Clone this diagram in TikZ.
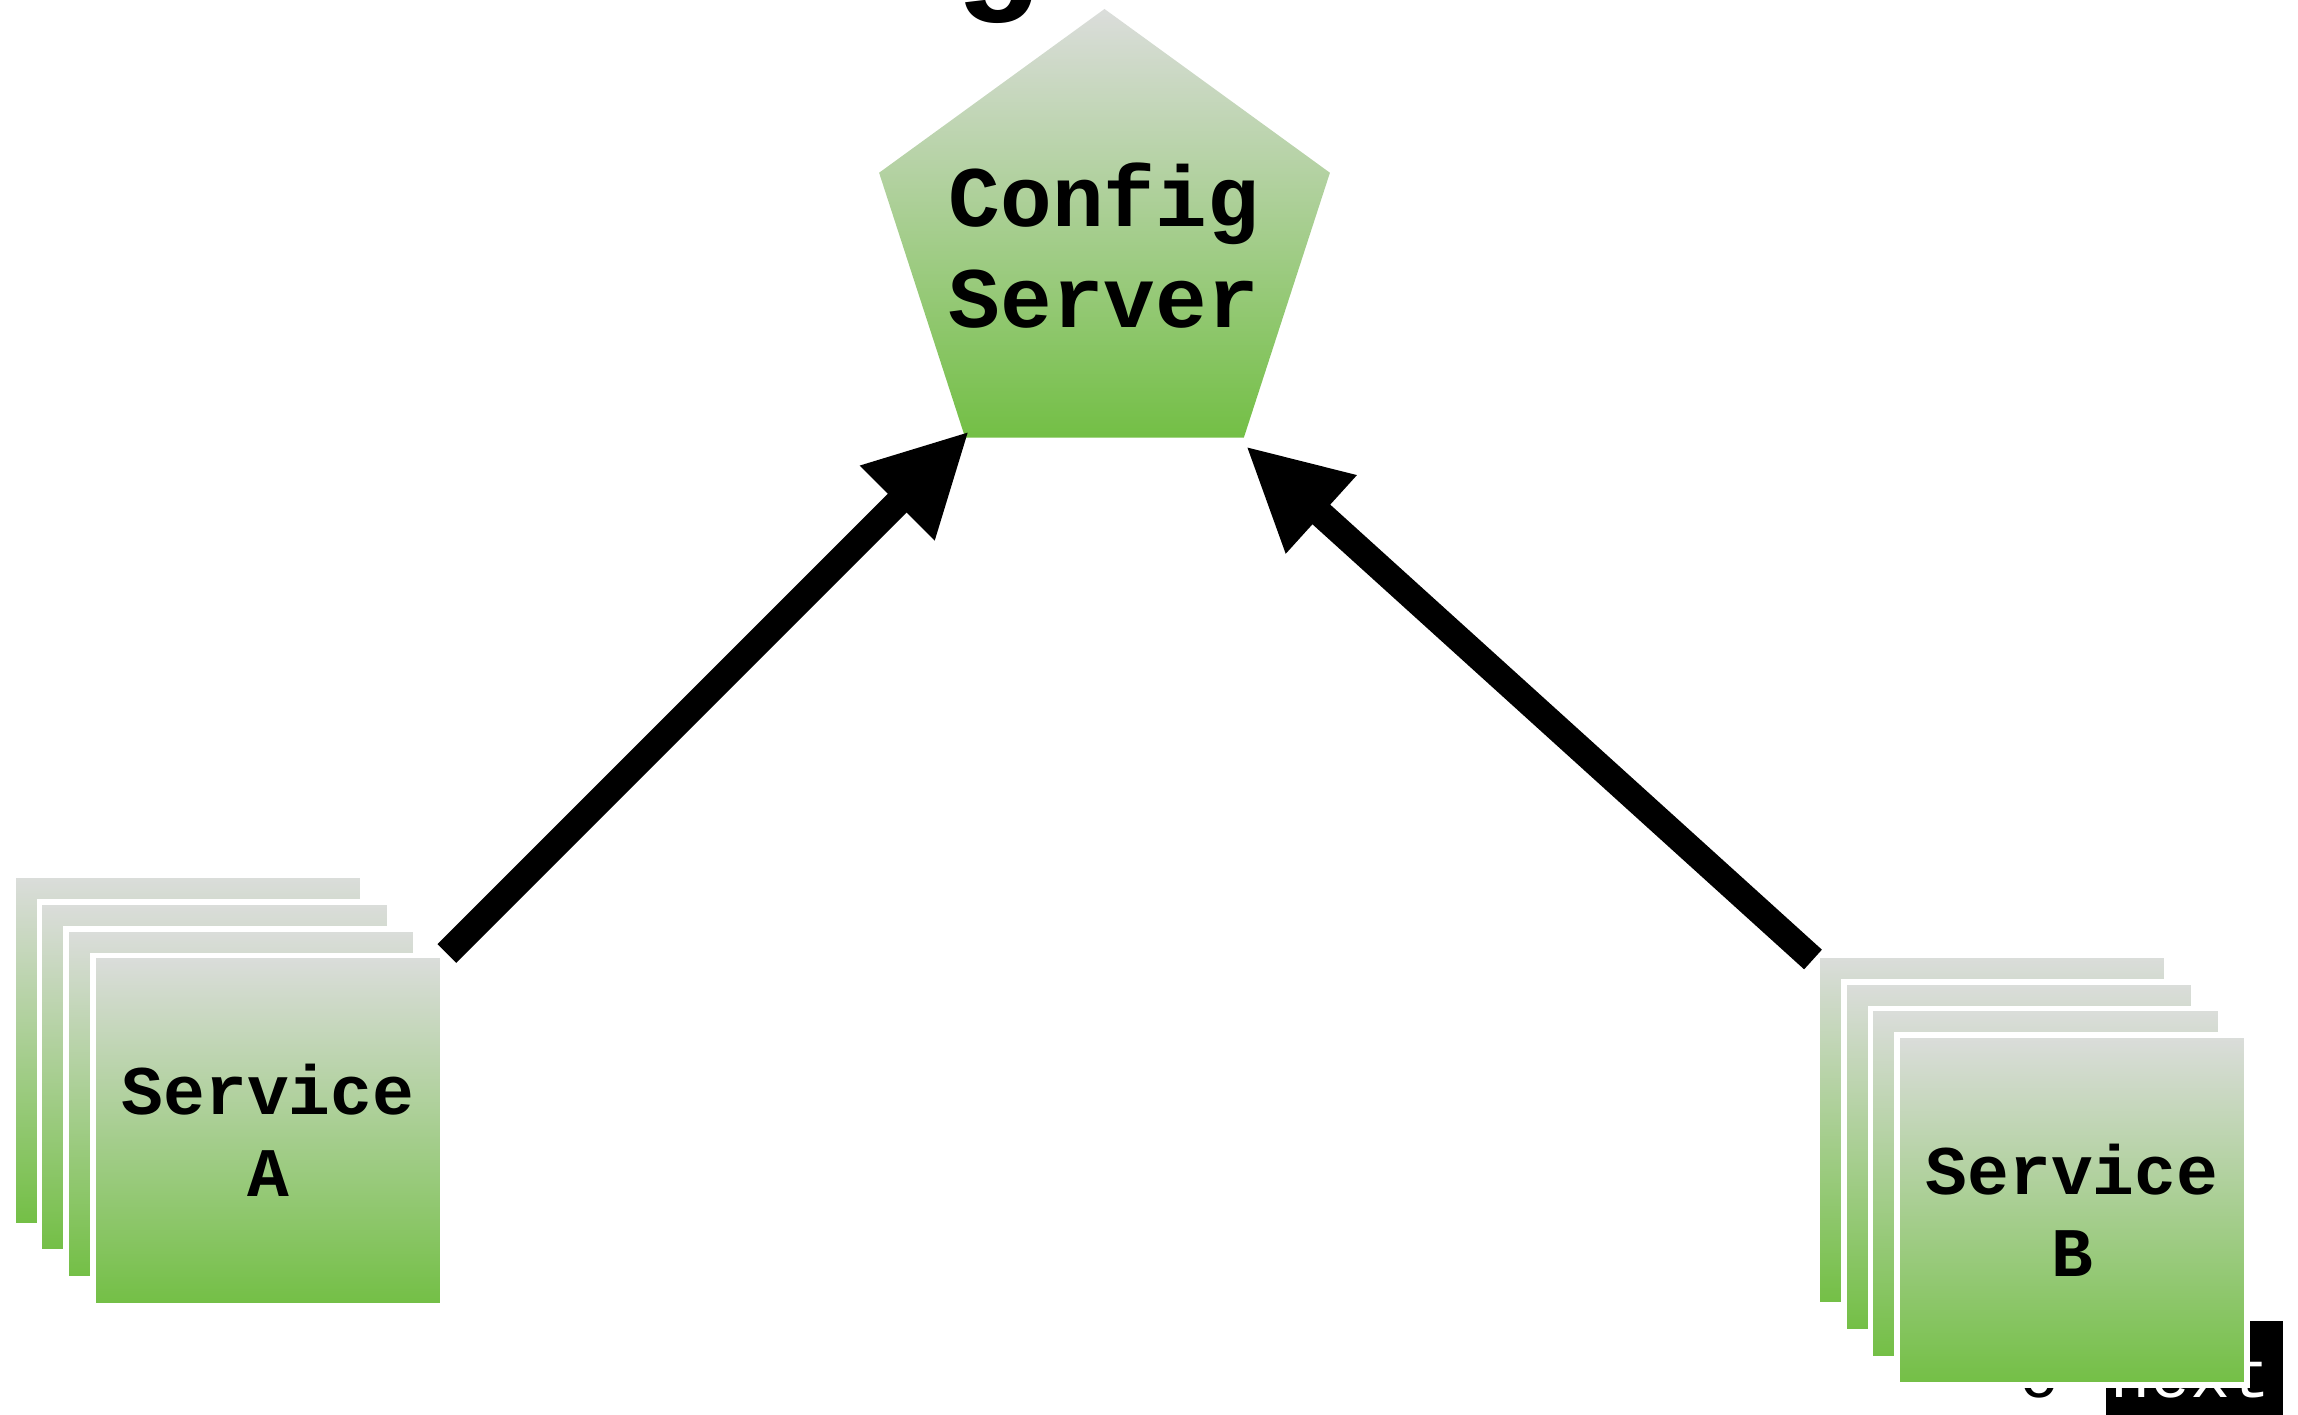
\documentclass[tikz,border=0pt]{standalone}
\usepackage{fontspec}
\setmonofont{Liberation Mono}
\usetikzlibrary{shapes.geometric,arrows.meta}
\definecolor{cardgray}{RGB}{219,221,219}
\definecolor{cardgreen}{RGB}{115,191,69}

\begin{document}
\begin{tikzpicture}[x=1cm,y=-1cm,
  card/.style={rectangle, minimum size=3.5cm, inner sep=0pt, top color=cardgray, bottom color=cardgreen, draw=white, line width=0.057cm, align=center, font=\ttfamily\bfseries\fontsize{19.8}{23.3}\selectfont},
  link/.style={line width=0.265cm, -{Triangle[length=1.02cm,width=0.98cm]}}]
  \useasboundingbox (0,0) rectangle (22.98,14.15);
  % cut-off bits of the slide around the picture
  \node[font=\ttfamily\bfseries\fontsize{41.7}{50}\selectfont, anchor=base, inner sep=0pt] (ttl) at (9.97,-0.07) {g};
  \fill[black] (21.06,13.21) rectangle (22.83,14.3);
  \node[font=\ttfamily\fontsize{19}{23}\selectfont, text=white, anchor=base west, inner sep=0pt] (nxt) at (21.10,13.97) {next};
  \node[font=\ttfamily\fontsize{19}{23}\selectfont, anchor=base, inner sep=0pt] (prev) at (20.40,13.97) {o};
  % config server
  \node[regular polygon, regular polygon sides=5, minimum size=4.74cm, inner sep=0pt, top color=cardgray, bottom color=cardgreen] (cfg) at (11.045,2.46) {};
  \node[font=\ttfamily\bfseries\fontsize{24.5}{28.7}\selectfont, align=center, inner sep=0pt] (cfgtext) at (11.04,2.46) {Config\\Server};
  % service stacks
  \foreach \i in {0,1,2} \node[card] (sa\i) at (1.8785+0.267*\i,10.5045+0.267*\i) {};
  \node[card] (svcA) at (2.6795,11.3055) {Service\\A};
  \foreach \i in {0,1,2} \node[card] (sb\i) at (19.92+0.267*\i,11.30+0.267*\i) {};
  \node[card] (svcB) at (20.721,12.101) {Service\\B};
  % fetch config
  \coordinate (aTail) at (4.468,9.535); \coordinate (aTip) at (9.693,4.31);
  \coordinate (bTail) at (18.13,9.595); \coordinate (bTip) at (12.457,4.46);
  \draw[link] (aTail) -- (aTip);
  \draw[link] (bTail) -- (bTip);
\end{tikzpicture}
\end{document}
